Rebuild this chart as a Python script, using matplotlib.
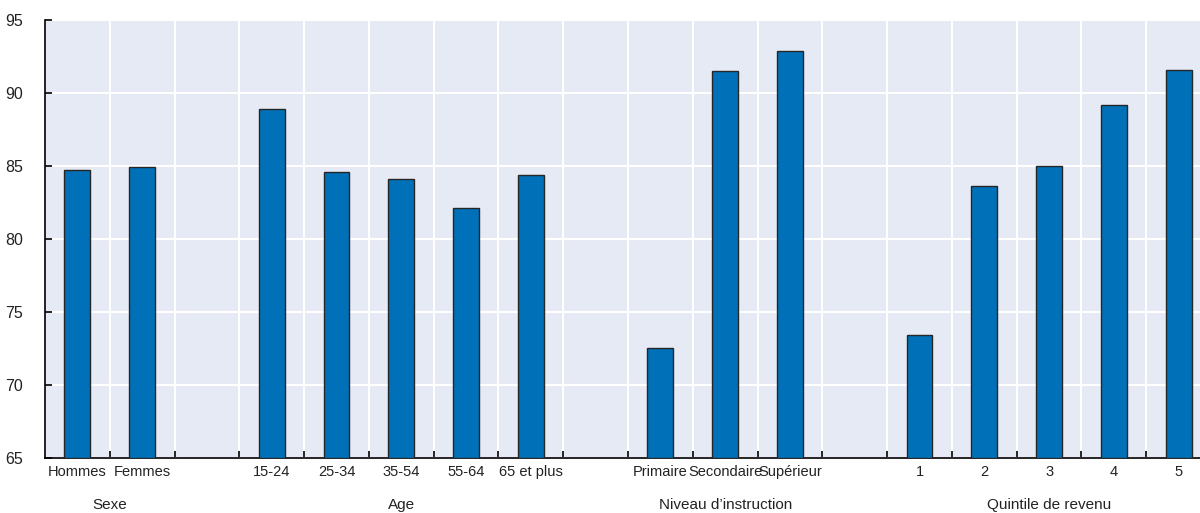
import matplotlib
matplotlib.use("Agg")
import matplotlib.pyplot as plt
from matplotlib.ticker import FixedLocator

plt.rcParams['font.family'] = ['Liberation Sans', 'DejaVu Sans']

# Category labels per group (empty slots separate the groups)
sexe = ["Hommes", "Femmes"]
age = ["15-24", "25-34", "35-54", "55-64", "65 et plus"]
instruction = ["Primaire", "Secondaire", "Supérieur"]
quintile = ["1", "2", "3", "4", "5"]

sexe_vals = [84.7, 84.9]
age_vals = [88.9, 84.6, 84.1, 82.1, 84.4]
instruction_vals = [72.5, 91.5, 92.9]
quintile_vals = [73.4, 83.6, 85.0, 89.2, 91.6]

group_titles = ["Sexe", "Age", "Niveau d’instruction", "Quintile de revenu"]

groups = [(sexe, sexe_vals), (age, age_vals),
          (instruction, instruction_vals), (quintile, quintile_vals)]

positions, labels, values, centers = [], [], [], []
pos = 0
for cats, vals in groups:
    start = pos
    for c, v in zip(cats, vals):
        positions.append(pos)
        labels.append(c)
        values.append(v)
        pos += 1
    centers.append((start + pos - 1) / 2)
    pos += 1  # empty slot between groups
n_slots = pos - 1

fig = plt.figure(figsize=(12, 5.13), dpi=100)
ax = fig.add_axes([45 / 1200, 55 / 513, 1166 / 1200, 438 / 513])
ax.set_facecolor("#e6eaf5")

ax.bar(positions, [v - 65 for v in values], bottom=65, width=0.4,
       color="#0070b8", edgecolor="#262626", linewidth=1.0, zorder=3)

ax.set_xlim(-0.5, n_slots - 0.5)
ax.set_ylim(65, 95)
ax.set_yticks([65, 70, 75, 80, 85, 90, 95])
ax.set_xticks(positions)
ax.set_xticklabels(labels)
ax.xaxis.set_minor_locator(FixedLocator([k + 0.5 for k in range(n_slots - 1)]))

ax.grid(axis="y", which="major", color="white", linewidth=1.5, zorder=1)
ax.grid(axis="x", which="minor", color="white", linewidth=1.5, zorder=1)
ax.set_axisbelow(True)

for s in ["top", "right"]:
    ax.spines[s].set_visible(False)
for s in ["left", "bottom"]:
    ax.spines[s].set_color("black")
    ax.spines[s].set_linewidth(1.2)

ax.tick_params(axis="y", direction="in", length=5, width=1.2, pad=16,
               labelsize=11.5, colors="black", labelcolor="#222222")
ax.tick_params(axis="x", which="major", length=0, pad=5,
               labelsize=10.5, labelcolor="#222222")
ax.tick_params(axis="x", which="minor", direction="in", length=5, width=1.2)

for c, t in zip(centers, group_titles):
    ax.text(c, -0.107, t, transform=ax.get_xaxis_transform(),
            ha="center", va="center", fontsize=11, color="#222222")

fig.savefig("out.png", dpi=100)
